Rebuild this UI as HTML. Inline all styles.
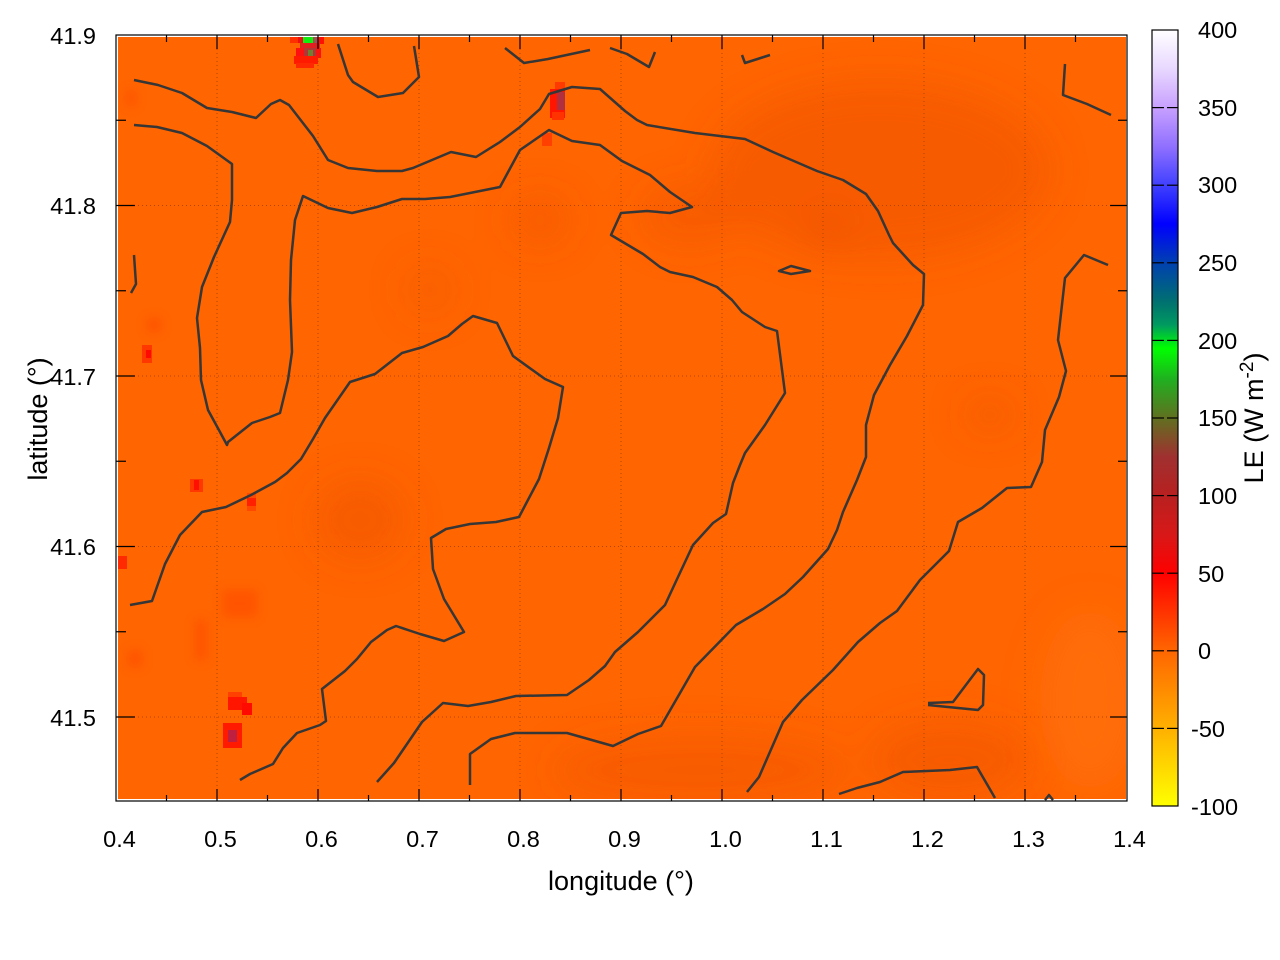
<!DOCTYPE html>
<html>
<head>
<meta charset="utf-8">
<style>
html,body{margin:0;padding:0;background:#fff;}
svg{display:block;}
text{font-family:"Liberation Sans",Arial,sans-serif;fill:#000;}
</style>
</head>
<body>
<svg width="1280" height="960" viewBox="0 0 1280 960" xmlns="http://www.w3.org/2000/svg">
<defs>
  <linearGradient id="cb" x1="0" y1="0" x2="0" y2="1">
    <stop offset="0" stop-color="#ffffff"/>
    <stop offset="0.05" stop-color="#e8d8ff"/>
    <stop offset="0.1" stop-color="#c8a0ff"/>
    <stop offset="0.15" stop-color="#9070ff"/>
    <stop offset="0.2" stop-color="#4040ff"/>
    <stop offset="0.25" stop-color="#0000ff"/>
    <stop offset="0.3" stop-color="#0040b0"/>
    <stop offset="0.35" stop-color="#007070"/>
    <stop offset="0.38" stop-color="#009a60"/>
    <stop offset="0.41" stop-color="#00ff00"/>
    <stop offset="0.45" stop-color="#20b020"/>
    <stop offset="0.5" stop-color="#607020"/>
    <stop offset="0.55" stop-color="#a03030"/>
    <stop offset="0.6" stop-color="#b82020"/>
    <stop offset="0.65" stop-color="#d81818"/>
    <stop offset="0.7" stop-color="#ff0000"/>
    <stop offset="0.8" stop-color="#ff6600"/>
    <stop offset="0.9" stop-color="#ffb000"/>
    <stop offset="0.95" stop-color="#ffd800"/>
    <stop offset="1" stop-color="#ffff00"/>
  </linearGradient>
  <filter id="bl" x="-50%" y="-50%" width="200%" height="200%"><feGaussianBlur stdDeviation="18"/></filter>
  <filter id="bl2" x="-50%" y="-50%" width="200%" height="200%"><feGaussianBlur stdDeviation="5"/></filter>
  <clipPath id="dc"><rect x="118" y="37" width="1008" height="762"/></clipPath>
</defs>

<!-- heatmap background -->
<rect x="118" y="37" width="1008" height="762" fill="#ff6500"/>
<g clip-path="url(#dc)">
  <g filter="url(#bl)" fill="#e84a00">
    <ellipse cx="880" cy="170" rx="170" ry="90" opacity="0.35"/>
    <ellipse cx="690" cy="215" rx="50" ry="30" opacity="0.3"/>
    <ellipse cx="360" cy="520" rx="45" ry="40" opacity="0.35"/>
    <ellipse cx="990" cy="415" rx="25" ry="15" opacity="0.4"/>
    <ellipse cx="950" cy="760" rx="80" ry="40" opacity="0.35"/>
    <ellipse cx="700" cy="770" rx="150" ry="35" opacity="0.3"/>
    <ellipse cx="540" cy="220" rx="30" ry="25" opacity="0.3"/>
    <ellipse cx="430" cy="290" rx="25" ry="25" opacity="0.25"/>
    <ellipse cx="830" cy="230" rx="20" ry="20" opacity="0.3"/>
  </g>
  <g filter="url(#bl)" fill="#ff7a10">
    <ellipse cx="1090" cy="700" rx="50" ry="90" opacity="0.35"/>
  </g>
  <g filter="url(#bl2)" fill="#ff4a00" opacity="0.6">
    <rect x="195" y="620" width="12" height="40"/>
    <rect x="223" y="590" width="34" height="27"/>
    <rect x="128" y="650" width="14" height="17"/>
    <rect x="126" y="90" width="10" height="16"/>
    <rect x="147" y="318" width="14" height="14"/>
    <rect x="230" y="600" width="12" height="10"/>
  </g>
</g>

<!-- red spots -->
<g>
  <!-- top spot -->
  <rect x="290" y="37" width="10" height="6" fill="#ff3000"/>
  <rect x="298" y="37" width="6" height="6" fill="#ee1010"/>
  <rect x="318" y="37" width="6" height="7" fill="#ff1000"/>
  <rect x="313" y="37" width="6" height="7" fill="#a05050"/>
  <rect x="303" y="37" width="10" height="7" fill="#10ee10"/>
  <rect x="300" y="43" width="20" height="6" fill="#e02020"/>
  <rect x="296" y="48" width="8" height="8" fill="#ff1010"/>
  <rect x="304" y="48" width="12" height="10" fill="#b03535"/>
  <rect x="308" y="50" width="5" height="6" fill="#708030"/>
  <rect x="316" y="48" width="5" height="10" fill="#ff1010"/>
  <rect x="294" y="56" width="24" height="8" fill="#ff1a00"/>
  <rect x="296" y="63" width="18" height="5" fill="#ff2800"/>
  <!-- column spot -->
  <rect x="555" y="82" width="10" height="8" fill="#ff3a00"/>
  <rect x="550" y="89" width="15" height="29" fill="#ff1500"/>
  <rect x="557" y="92" width="8" height="18" fill="#b03040"/>
  <rect x="552" y="112" width="12" height="8" fill="#ff3300"/>
  <rect x="542" y="133" width="10" height="13" fill="#ff4000"/>
  <!-- left spots -->
  <rect x="142" y="345" width="10" height="18" fill="#ff3800"/>
  <rect x="146" y="350" width="5" height="8" fill="#ff0a00"/>
  <rect x="190" y="479" width="13" height="13" fill="#ff3800"/>
  <rect x="194" y="480" width="5" height="10" fill="#ff0f00"/>
  <rect x="247" y="493" width="9" height="18" fill="#ff4800"/>
  <rect x="247" y="498" width="9" height="8" fill="#ff2000"/>
  <rect x="118" y="556" width="9" height="13" fill="#ff2a00"/>
  <rect x="228" y="692" width="14" height="6" fill="#ff4000"/>
  <rect x="228" y="697" width="19" height="13" fill="#ff1500"/>
  <rect x="242" y="703" width="10" height="12" fill="#ff0a00"/>
  <rect x="223" y="723" width="19" height="25" fill="#ff1a00"/>
  <rect x="228" y="730" width="9" height="12" fill="#c02040"/>
</g>

<!-- grid -->
<g stroke="#a84400" stroke-width="1" stroke-dasharray="1,3" opacity="0.9">
  <line x1="217" y1="37" x2="217" y2="799"/>
  <line x1="318" y1="37" x2="318" y2="799"/>
  <line x1="419" y1="37" x2="419" y2="799"/>
  <line x1="520" y1="37" x2="520" y2="799"/>
  <line x1="621" y1="37" x2="621" y2="799"/>
  <line x1="722" y1="37" x2="722" y2="799"/>
  <line x1="823" y1="37" x2="823" y2="799"/>
  <line x1="924" y1="37" x2="924" y2="799"/>
  <line x1="1025" y1="37" x2="1025" y2="799"/>
  <line x1="118" y1="717" x2="1126" y2="717"/>
  <line x1="118" y1="546.5" x2="1126" y2="546.5"/>
  <line x1="118" y1="376" x2="1126" y2="376"/>
  <line x1="118" y1="205.5" x2="1126" y2="205.5"/>
</g>

<!-- contours -->
<g fill="none" stroke="#363636" stroke-width="2.5" stroke-linejoin="round" stroke-linecap="butt">
  <polyline points="134,80 158,85 182,93 207,108 232,112 256,118 271,104 280,100 289,105 313,136 328,160 348,168 377,171 402,171 413,168 451,152 476,157 500,142 520,127 540,109 549,94 572,87 600,89 625,111 637,120 647,125 695,133 745,139 773,152 817,171 843,180 866,194 878,211 889,235 893,243 913,265 924,274 923,305 907,336 890,365 874,395 866,425 866,457 857,480 843,512 837,530 828,549 803,577 785,594 763,609 736,625 695,667 661,726 638,734 613,746 567,733 515,733 491,739 470,754 470,785"/>
  <polyline points="134,125 157,127 182,133 207,146 232,164 232,200 230,222 214,257 202,287 197,318 200,348 201,380 208,410 220,432 227,445 228,442 252,423 270,417 280,413 288,380 292,352 290,300 291,260 295,220 303,196 328,208 352,213 377,207 402,199 425,199 450,197 500,187 520,150 549,130 572,141 600,145 622,161 650,175 670,192 692,207 670,213 647,211 621,213 611,235 643,254 660,267 670,272 693,277 717,287 732,300 742,312 765,327 777,331 785,393 765,425 745,453 740,465 733,483 726,514 713,523 693,545 678,577 665,605 638,632 615,652 605,666 589,680 567,695 516,696 491,702 468,706 443,703 422,722 394,763 377,782"/>
  <polyline points="130,605 152,601 165,564 180,535 202,512 226,507 251,495 275,482 287,473 301,459 313,439 325,418 350,382 375,374 402,353 423,347 448,336 462,324 473,316 497,323 513,356 545,379 563,387 558,418 549,448 539,479 519,517 496,522 470,524 446,529 431,538 433,569 444,599 464,632 444,641 420,634 396,626 387,630 371,642 357,659 345,671 322,689 326,721 320,725 297,733 283,748 273,764 250,774 240,780"/>
  <polyline points="338,44 348,75 353,82 378,97 403,93 419,77 414,46"/>
  <polyline points="505,48 524,63 548,59 590,50"/>
  <polyline points="610,48 627,54 649,67 655,52"/>
  <polyline points="742,55 745,63 770,55"/>
  <polyline points="1065,64 1063,95 1087,104 1111,115"/>
  <polyline points="134,255 136,284 131,293"/>
  <polygon points="779,271 791,266 810,271 791,274"/>
  <polyline points="1108,265 1084,255 1065,278 1058,340 1066,371 1059,397 1045,430 1042,462 1031,487 1007,488 982,508 958,522 949,551 920,580 897,611 880,623 858,642 833,670 802,700 783,722 759,777 747,792"/>
  <polyline points="928,703 953,702 978,669 984,675 983,705 978,710 928,705"/>
  <polyline points="839,794 857,788 880,782 903,772 950,770 977,767 995,798"/>
  <polyline points="1045,800 1049,795 1053,800"/>
</g>

<!-- frame -->
<rect x="116" y="35" width="1011" height="766" fill="none" stroke="#000" stroke-width="1.2"/>

<!-- ticks -->
<g stroke="#000" stroke-width="1.2">
  <!-- bottom major -->
  <line x1="217" y1="801" x2="217" y2="789"/><line x1="318" y1="801" x2="318" y2="789"/>
  <line x1="419" y1="801" x2="419" y2="789"/><line x1="520" y1="801" x2="520" y2="789"/>
  <line x1="621" y1="801" x2="621" y2="789"/><line x1="722" y1="801" x2="722" y2="789"/>
  <line x1="823" y1="801" x2="823" y2="789"/><line x1="924" y1="801" x2="924" y2="789"/>
  <line x1="1025" y1="801" x2="1025" y2="789"/>
  <!-- bottom minor -->
  <line x1="166.5" y1="801" x2="166.5" y2="795"/><line x1="267.5" y1="801" x2="267.5" y2="795"/>
  <line x1="368.5" y1="801" x2="368.5" y2="795"/><line x1="469.5" y1="801" x2="469.5" y2="795"/>
  <line x1="570.5" y1="801" x2="570.5" y2="795"/><line x1="671.5" y1="801" x2="671.5" y2="795"/>
  <line x1="772.5" y1="801" x2="772.5" y2="795"/><line x1="873.5" y1="801" x2="873.5" y2="795"/>
  <line x1="974.5" y1="801" x2="974.5" y2="795"/><line x1="1075.5" y1="801" x2="1075.5" y2="795"/>
  <!-- top major -->
  <line x1="217" y1="35" x2="217" y2="49"/><line x1="318" y1="35" x2="318" y2="49"/>
  <line x1="419" y1="35" x2="419" y2="49"/><line x1="520" y1="35" x2="520" y2="49"/>
  <line x1="621" y1="35" x2="621" y2="49"/><line x1="722" y1="35" x2="722" y2="49"/>
  <line x1="823" y1="35" x2="823" y2="49"/><line x1="924" y1="35" x2="924" y2="49"/>
  <line x1="1025" y1="35" x2="1025" y2="49"/>
  <!-- top minor -->
  <line x1="166.5" y1="35" x2="166.5" y2="42"/><line x1="267.5" y1="35" x2="267.5" y2="42"/>
  <line x1="368.5" y1="35" x2="368.5" y2="42"/><line x1="469.5" y1="35" x2="469.5" y2="42"/>
  <line x1="570.5" y1="35" x2="570.5" y2="42"/><line x1="671.5" y1="35" x2="671.5" y2="42"/>
  <line x1="772.5" y1="35" x2="772.5" y2="42"/><line x1="873.5" y1="35" x2="873.5" y2="42"/>
  <line x1="974.5" y1="35" x2="974.5" y2="42"/><line x1="1075.5" y1="35" x2="1075.5" y2="42"/>
  <!-- left major -->
  <line x1="116" y1="717" x2="135" y2="717"/><line x1="116" y1="546.5" x2="135" y2="546.5"/>
  <line x1="116" y1="376" x2="135" y2="376"/><line x1="116" y1="205.5" x2="135" y2="205.5"/>
  <!-- left minor -->
  <line x1="116" y1="631.75" x2="126" y2="631.75"/><line x1="116" y1="461.25" x2="126" y2="461.25"/>
  <line x1="116" y1="290.75" x2="126" y2="290.75"/><line x1="116" y1="120.25" x2="126" y2="120.25"/>
  <!-- right major -->
  <line x1="1127" y1="717" x2="1110" y2="717"/><line x1="1127" y1="546.5" x2="1110" y2="546.5"/>
  <line x1="1127" y1="376" x2="1110" y2="376"/><line x1="1127" y1="205.5" x2="1110" y2="205.5"/>
  <!-- right minor -->
  <line x1="1127" y1="631.75" x2="1118" y2="631.75"/><line x1="1127" y1="461.25" x2="1118" y2="461.25"/>
  <line x1="1127" y1="290.75" x2="1118" y2="290.75"/><line x1="1127" y1="120.25" x2="1118" y2="120.25"/>
</g>

<!-- tick labels -->
<g font-size="23.5" text-anchor="middle">
  <text x="119.5" y="847">0.4</text>
  <text x="220.5" y="847">0.5</text>
  <text x="321.5" y="847">0.6</text>
  <text x="422.5" y="847">0.7</text>
  <text x="523.5" y="847">0.8</text>
  <text x="624.5" y="847">0.9</text>
  <text x="725.5" y="847">1.0</text>
  <text x="826.5" y="847">1.1</text>
  <text x="927.5" y="847">1.2</text>
  <text x="1028.5" y="847">1.3</text>
  <text x="1129.5" y="847">1.4</text>
</g>
<g font-size="23.5" text-anchor="end">
  <text x="96" y="726">41.5</text>
  <text x="96" y="555">41.6</text>
  <text x="96" y="385">41.7</text>
  <text x="96" y="214">41.8</text>
  <text x="96" y="44">41.9</text>
</g>

<!-- axis titles -->
<text x="621" y="890" font-size="27" text-anchor="middle">longitude (°)</text>
<text transform="translate(47,419) rotate(-90)" font-size="27" text-anchor="middle">latitude (°)</text>

<!-- colorbar -->
<rect x="1152" y="30" width="26" height="776" fill="url(#cb)" stroke="#000" stroke-width="1.2"/>
<g stroke="#000" stroke-width="1.2">
  <line x1="1152" y1="107.6" x2="1164" y2="107.6"/><line x1="1167" y1="107.6" x2="1178" y2="107.6"/>
  <line x1="1152" y1="185.2" x2="1164" y2="185.2"/><line x1="1167" y1="185.2" x2="1178" y2="185.2"/>
  <line x1="1152" y1="262.8" x2="1164" y2="262.8"/><line x1="1167" y1="262.8" x2="1178" y2="262.8"/>
  <line x1="1152" y1="340.4" x2="1164" y2="340.4"/><line x1="1167" y1="340.4" x2="1178" y2="340.4"/>
  <line x1="1152" y1="418" x2="1164" y2="418"/><line x1="1167" y1="418" x2="1178" y2="418"/>
  <line x1="1152" y1="495.6" x2="1164" y2="495.6"/><line x1="1167" y1="495.6" x2="1178" y2="495.6"/>
  <line x1="1152" y1="573.2" x2="1164" y2="573.2"/><line x1="1167" y1="573.2" x2="1178" y2="573.2"/>
  <line x1="1152" y1="650.8" x2="1164" y2="650.8"/><line x1="1167" y1="650.8" x2="1178" y2="650.8"/>
  <line x1="1152" y1="728.4" x2="1164" y2="728.4"/><line x1="1167" y1="728.4" x2="1178" y2="728.4"/>
</g>
<g font-size="23.5">
  <text x="1198" y="38">400</text>
  <text x="1198" y="116">350</text>
  <text x="1198" y="193">300</text>
  <text x="1198" y="271">250</text>
  <text x="1198" y="349">200</text>
  <text x="1198" y="426">150</text>
  <text x="1198" y="504">100</text>
  <text x="1198" y="582">50</text>
  <text x="1198" y="659">0</text>
  <text x="1191" y="737">-50</text>
  <text x="1191" y="815">-100</text>
</g>
<text transform="translate(1263,418) rotate(-90)" font-size="27" text-anchor="middle">LE (W m<tspan font-size="19" dy="-10">-2</tspan><tspan dy="10">)</tspan></text>
</svg>
</body>
</html>
